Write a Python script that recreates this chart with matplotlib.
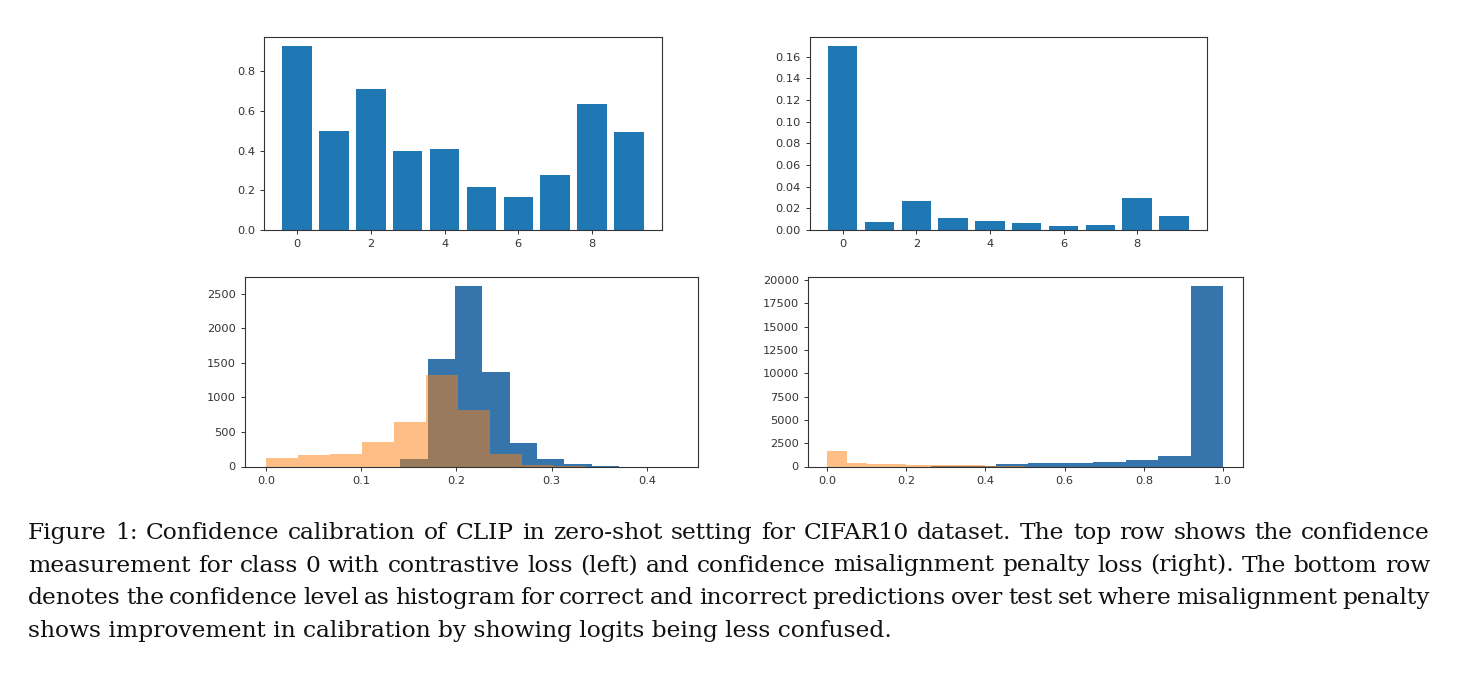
import numpy as np
import matplotlib
matplotlib.use("Agg")
import matplotlib.pyplot as plt

# ---------------- data ----------------
classes = list(range(10))
contrastive_conf = [0.925, 0.50, 0.71, 0.40, 0.41, 0.215, 0.165, 0.275, 0.635, 0.495]
penalty_conf = [0.170, 0.0075, 0.027, 0.0115, 0.0085, 0.0065, 0.0035, 0.0045, 0.0295, 0.013]

# bottom-left histograms (contrastive): bin range + counts
bl_correct_range = (0.141, 0.428)
bl_correct_counts = [110, 1550, 2610, 1360, 340, 110, 30, 10, 0, 0]
bl_wrong_range = (0.0, 0.336)
bl_wrong_counts = [130, 160, 180, 350, 650, 1330, 820, 180, 20, 5]

# bottom-right histograms (misalignment penalty)
br_correct_range = (0.18, 1.0)
br_correct_counts = [0, 60, 80, 260, 370, 370, 480, 730, 1130, 19350]
br_wrong_range = (0.0, 0.5)
br_wrong_counts = [1670, 370, 260, 260, 150, 130, 130, 120, 30, 20]

caption_lines = [
    "Figure 1: Confidence calibration of CLIP in zero-shot setting for CIFAR10 dataset. The top row shows the confidence",
    "measurement for class 0 with contrastive loss (left) and confidence misalignment penalty loss (right). The bottom row",
    "denotes the confidence level as histogram for correct and incorrect predictions over test set where misalignment penalty",
    "shows improvement in calibration by showing logits being less confused.",
]

# ---------------- style ----------------
BAR_BLUE = "#1f77b4"
HIST_BLUE = "#3675ab"
HIST_ORANGE = "#ff7f0e"
TICK_FS = 8.2
W, H = 1457, 673

fig = plt.figure(figsize=(W / 100, H / 100), dpi=100)


def px_axes(left, top, right, bottom):
    return fig.add_axes([left / W, 1 - bottom / H, (right - left) / W, (bottom - top) / H])


def style(ax):
    ax.tick_params(labelsize=TICK_FS, labelcolor="#333333", length=3, width=0.7, colors="#333333")
    for s in ax.spines.values():
        s.set_linewidth(0.8)
        s.set_color("#333333")


# top-left
ax1 = px_axes(264.3, 37.3, 661.7, 230)
ax1.bar(classes, contrastive_conf, color=BAR_BLUE)
ax1.set_xticks([0, 2, 4, 6, 8])
ax1.set_yticks([0.0, 0.2, 0.4, 0.6, 0.8])
style(ax1)

# top-right
ax2 = px_axes(810, 36.7, 1206.7, 230)
ax2.bar(classes, penalty_conf, color=BAR_BLUE)
ax2.set_xticks([0, 2, 4, 6, 8])
ax2.set_yticks(np.arange(0, 0.17, 0.02))
ax2.yaxis.set_major_formatter(matplotlib.ticker.FormatStrFormatter("%.2f"))
style(ax2)


def hist_from_counts(ax, rng, counts, **kw):
    edges = np.linspace(rng[0], rng[1], len(counts) + 1)
    centers = (edges[:-1] + edges[1:]) / 2
    ax.hist(centers, bins=edges, weights=counts, **kw)


# bottom-left
ax3 = px_axes(245, 277, 698, 466.5)
hist_from_counts(ax3, bl_correct_range, bl_correct_counts, color=HIST_BLUE)
hist_from_counts(ax3, bl_wrong_range, bl_wrong_counts, color=HIST_ORANGE, alpha=0.5)
ax3.set_xlim(-0.022, 0.4535)
ax3.set_xticks([0.0, 0.1, 0.2, 0.3, 0.4])
ax3.set_yticks([0, 500, 1000, 1500, 2000, 2500])
style(ax3)

# bottom-right
ax4 = px_axes(808, 277, 1243, 466.5)
hist_from_counts(ax4, br_correct_range, br_correct_counts, color=HIST_BLUE)
hist_from_counts(ax4, br_wrong_range, br_wrong_counts, color=HIST_ORANGE, alpha=0.5)
ax4.set_xlim(-0.048, 1.05)
ax4.set_xticks([0.0, 0.2, 0.4, 0.6, 0.8, 1.0])
ax4.set_yticks(np.arange(0, 20001, 2500))
style(ax4)

# ---------------- caption (justified) ----------------
CAP_FONT = dict(family=["DejaVu Serif"], size=16.8, color="#111111")
x_left, x_right = 28, 1430
baselines = [539, 571.5, 604, 636.5]

fig.canvas.draw()
renderer = fig.canvas.get_renderer()
for i, (line, yb) in enumerate(zip(caption_lines, baselines)):
    words = line.split(" ")
    y = 1 - yb / H
    if i == len(caption_lines) - 1:
        fig.text(x_left / W, y, line, ha="left", va="baseline", **CAP_FONT)
        continue
    texts = [fig.text(0, y, w, ha="left", va="baseline", **CAP_FONT) for w in words]
    widths = [t.get_window_extent(renderer).width for t in texts]
    gap = (x_right - x_left - sum(widths)) / (len(words) - 1)
    x = x_left
    for t, w in zip(texts, widths):
        t.set_x(x / W)
        x += w + gap

fig.savefig("out.png", dpi=100)
